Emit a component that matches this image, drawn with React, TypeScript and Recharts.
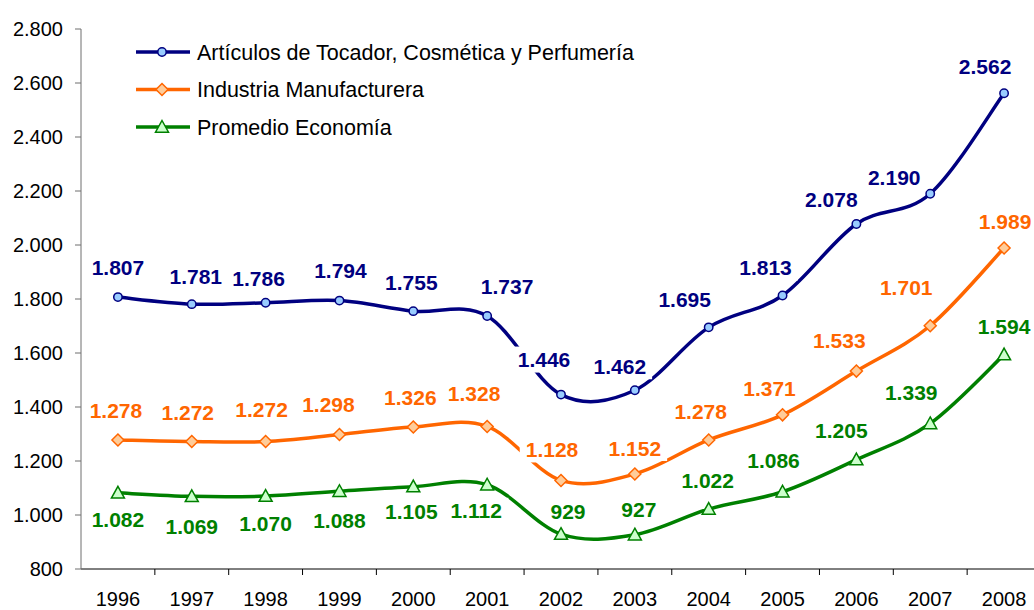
import React from 'react';
import { LineChart, Line, XAxis, YAxis, LabelList, Legend } from 'recharts';

const years = ['1996', '1997', '1998', '1999', '2000', '2001', '2002', '2003', '2004', '2005', '2006', '2007', '2008'];
const articulos = [1807, 1781, 1786, 1794, 1755, 1737, 1446, 1462, 1695, 1813, 2078, 2190, 2562];
const industria = [1278, 1272, 1272, 1298, 1326, 1328, 1128, 1152, 1278, 1371, 1533, 1701, 1989];
const promedio = [1082, 1069, 1070, 1088, 1105, 1112, 929, 927, 1022, 1086, 1205, 1339, 1594];
const yTicks = [800, 1000, 1200, 1400, 1600, 1800, 2000, 2200, 2400, 2600, 2800];

const seriesNames = [
  'Artículos de Tocador, Cosmética y Perfumería',
  'Industria Manufacturera',
  'Promedio Economía',
];

// label offsets (layout only)
const navyOffsets = [[0, -30], [4, -28], [-7, -24], [1, -30], [-2, -29], [20, -30], [-17, -35], [-15, -24], [-24, -28], [-17, -28], [-25, -25], [-36, -16], [-19, -27]];
const orangeOffsets = [[-2, -30], [-4, -29], [-4, -32], [-11, -30], [-3, -30], [-13, -33], [-9, -31], [0, -26], [-8, -29], [-13, -26], [-17, -31], [-24, -38], [1, -27]];
const greenOffsets = [[0, 27], [0, 30], [0, 27], [0, 29], [-2, 25], [-11, 26], [7, -23], [4, -25], [-1, -29], [-9, -31], [-15, -29], [-19, -31], [0, -28]];

const data = years.map((y, i) => ({
  idx: i,
  year: y,
  articulos: articulos[i],
  industria: industria[i],
  promedio: promedio[i],
}));

const NAVY = '#000080';
const ORANGE = '#FF6600';
const GREEN = '#008000';
const NAVY_FILL = '#99CCFF';
const ORANGE_FILL = '#FFCC99';
const GREEN_FILL = '#CCFFCC';
const FONT = '"Liberation Sans", Arial, sans-serif';

const CHART_W = 1041;
const CHART_H = 610;
const Y_W = 81;
const BAND = (CHART_W - Y_W) / years.length;
const LINE_W = 3.5;

const fmt = (v: number) => String(v).replace(/\B(?=(\d{3})+(?!\d))/g, '.');

function excelCurve(context: any) {
  let pts: number[][] = [];
  return {
    areaStart() {},
    areaEnd() {},
    lineStart() {
      pts = [];
    },
    lineEnd() {
      if (!pts.length) return;
      context.moveTo(pts[0][0], pts[0][1]);
      for (let i = 0; i < pts.length - 1; i++) {
        const p0 = pts[Math.max(i - 1, 0)];
        const p1 = pts[i];
        const p2 = pts[i + 1];
        const p3 = pts[Math.min(i + 2, pts.length - 1)];
        context.bezierCurveTo(
          p1[0] + (p2[0] - p0[0]) / 6,
          p1[1] + (p2[1] - p0[1]) / 6,
          p2[0] - (p3[0] - p1[0]) / 6,
          p2[1] - (p3[1] - p1[1]) / 6,
          p2[0],
          p2[1]
        );
      }
    },
    point(x: number, y: number) {
      pts.push([+x, +y]);
    },
  };
}

const textWidth = (s: string, fs: number) => {
  let w = 0;
  for (const c of s) w += c === '.' ? 0.278 * fs : 0.556 * fs;
  return w;
};

const makeLabel = (color: string, offsets: number[][], padBottom: number) => (props: any) => {
  const { x, y, value, index } = props;
  const off = offsets[index] || [0, -28];
  const cx = x + off[0];
  const cy = y + off[1];
  const s = fmt(value);
  const fs = 21;
  const w = textWidth(s, fs);
  return (
    <g key={`lbl-${index}`}>
      <rect x={cx - w / 2 - 6} y={cy - 13} width={w + 12} height={13 + padBottom} fill="#fff" />
      <text x={cx} y={cy + 0.36 * fs} textAnchor="middle" fontSize={fs} fontWeight="bold" fill={color} fontFamily={FONT}>
        {s}
      </text>
    </g>
  );
};

const CircleDot = (props: any) => {
  const { cx, cy, index } = props;
  return <circle key={`c-${index}`} cx={cx} cy={cy} r={4.2} fill={NAVY_FILL} stroke={NAVY} strokeWidth={1.5} />;
};

const DiamondDot = (props: any) => {
  const { cx, cy, index } = props;
  const s = 6;
  return (
    <path
      key={`d-${index}`}
      d={`M${cx},${cy - s}L${cx + s},${cy}L${cx},${cy + s}L${cx - s},${cy}Z`}
      fill={ORANGE_FILL}
      stroke={ORANGE}
      strokeWidth={1.5}
    />
  );
};

const TriangleDot = (props: any) => {
  const { cx, cy, index } = props;
  const s = 6.5;
  return (
    <path
      key={`t-${index}`}
      d={`M${cx},${cy - s}L${cx + s},${cy + s * 0.8}L${cx - s},${cy + s * 0.8}Z`}
      fill={GREEN_FILL}
      stroke={GREEN}
      strokeWidth={1.5}
    />
  );
};

const XTick = (props: any) => {
  const { x, y, payload } = props;
  const i = payload.value;
  const axisY = y - 23;
  return (
    <g>
      <text x={x} y={y + 14} textAnchor="middle" fontSize={20} fill="#000" fontFamily={FONT}>
        {years[i]}
      </text>
      <line x1={x + BAND / 2} x2={x + BAND / 2} y1={axisY} y2={axisY + 6} stroke="#000" strokeWidth={1} />
    </g>
  );
};

const legendItems = [
  { name: seriesNames[0], color: NAVY, Dot: CircleDot },
  { name: seriesNames[1], color: ORANGE, Dot: DiamondDot },
  { name: seriesNames[2], color: GREEN, Dot: TriangleDot },
];

const renderLegend = () => (
  <svg width={660} height={150} style={{ display: 'block' }}>
    {legendItems.map((it, k) => {
      const cy = 52 + k * 37.5;
      const D = it.Dot;
      return (
        <g key={it.name}>
          <line x1={136} x2={190} y1={cy} y2={cy} stroke={it.color} strokeWidth={LINE_W} />
          <D cx={162} cy={cy} index={100 + k} />
          <text x={197} y={cy + 7.5} fontSize={21.5} fill="#000" fontFamily={FONT}>
            {it.name}
          </text>
        </g>
      );
    })}
  </svg>
);

export default function App() {
  return (
    <div style={{ position: 'absolute', left: 0, top: 0, width: 1034, height: 610, overflow: 'hidden', background: '#fff' }}>
      <LineChart width={CHART_W} height={CHART_H} data={data} margin={{ top: 29, right: 0, bottom: 0, left: 0 }}>
        <XAxis
          dataKey="idx"
          type="number"
          domain={[-0.5, 12.5]}
          ticks={years.map((_, i) => i)}
          interval={0}
          height={41}
          tickSize={6}
          tickMargin={17}
          tickLine={false}
          axisLine={{ stroke: '#000', strokeWidth: 1 }}
          tick={<XTick />}
          allowDataOverflow
        />
        <YAxis
          type="number"
          domain={[800, 2800]}
          ticks={yTicks}
          interval={0}
          width={Y_W}
          tickSize={6}
          tickMargin={12}
          axisLine={{ stroke: '#6e6e6e', strokeWidth: 1 }}
          tickLine={{ stroke: '#6e6e6e', strokeWidth: 1 }}
          tick={{ fontSize: 20, fill: '#000', fontFamily: FONT }}
          tickFormatter={fmt}
          allowDataOverflow
        />
        <Legend
          content={renderLegend}
          layout="horizontal"
          verticalAlign="middle"
          align="center"
          wrapperStyle={{ position: 'absolute', left: 0, top: 0, width: 660, height: 150 }}
        />
        <Line
          dataKey="promedio"
          name={seriesNames[2]}
          type={excelCurve as any}
          stroke={GREEN}
          strokeWidth={LINE_W}
          dot={TriangleDot}
          activeDot={false}
          isAnimationActive={false}
        >
          <LabelList dataKey="promedio" content={makeLabel(GREEN, greenOffsets, 10)} />
        </Line>
        <Line
          dataKey="industria"
          name={seriesNames[1]}
          type={excelCurve as any}
          stroke={ORANGE}
          strokeWidth={LINE_W}
          dot={DiamondDot}
          activeDot={false}
          isAnimationActive={false}
        >
          <LabelList dataKey="industria" content={makeLabel(ORANGE, orangeOffsets, 13)} />
        </Line>
        <Line
          dataKey="articulos"
          name={seriesNames[0]}
          type={excelCurve as any}
          stroke={NAVY}
          strokeWidth={LINE_W}
          dot={CircleDot}
          activeDot={false}
          isAnimationActive={false}
        >
          <LabelList dataKey="articulos" content={makeLabel(NAVY, navyOffsets, 13)} />
        </Line>
      </LineChart>
    </div>
  );
}
